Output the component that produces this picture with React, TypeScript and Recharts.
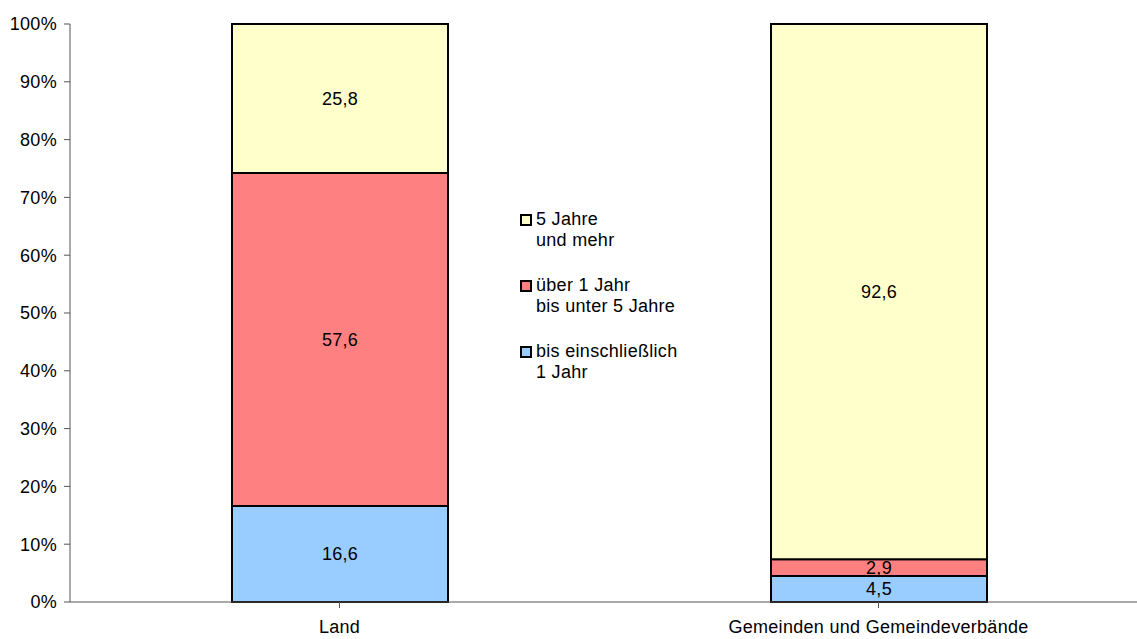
import { Bar, BarChart, LabelList, XAxis, YAxis } from "recharts";

const categories = ["Land", "Gemeinden und Gemeindeverbände"];
const bisEinJahr = [16.6, 4.5];
const ueberEinJahr = [57.6, 2.9];
const fuenfJahre = [25.8, 92.6];
const yTicks = [0, 10, 20, 30, 40, 50, 60, 70, 80, 90, 100];

const SERIES = [
  { key: "kurz", name: "bis einschließlich\n1 Jahr", color: "#99ccff" },
  { key: "mittel", name: "über 1 Jahr\nbis unter 5 Jahre", color: "#ff8080" },
  { key: "lang", name: "5 Jahre\nund mehr", color: "#ffffcc" },
];

const data = categories.map((name, i) => ({
  name,
  kurz: bisEinJahr[i],
  mittel: ueberEinJahr[i],
  lang: fuenfJahre[i],
}));

const FONT = "'Liberation Sans', Arial, sans-serif";
const FS = 18;
const LS = 0.3;

const fmt = (v: unknown) => String(v).replace(".", ",");

function LegendBox() {
  const items = [...SERIES].reverse();
  return (
    <div
      style={{
        position: "absolute",
        left: 520,
        top: 209,
        fontFamily: FONT,
        fontSize: FS,
        letterSpacing: LS,
        color: "#000",
        lineHeight: "21px",
      }}
    >
      {items.map((s) => (
        <div key={s.key} style={{ display: "flex", alignItems: "flex-start", marginBottom: 24 }}>
          <span
            style={{
              display: "inline-block",
              width: 8,
              height: 8,
              marginTop: 5,
              marginRight: 4,
              background: s.color,
              border: "2px solid #000",
            }}
          />
          <span style={{ whiteSpace: "pre-line" }}>{s.name}</span>
        </div>
      ))}
    </div>
  );
}

export default function App() {
  const textStyle = { fill: "#000", fontSize: FS, fontFamily: FONT, letterSpacing: LS };
  return (
    <div style={{ position: "absolute", left: 0, top: 0, width: 1137, height: 639, overflow: "hidden", background: "#fff" }}>
      <BarChart
        width={1150}
        height={639}
        data={data}
        margin={{ top: 24, right: 2, bottom: 7, left: 0 }}
        barSize={216}
      >
        <XAxis
          dataKey="name"
          axisLine={{ stroke: "#555" }}
          tickLine={{ stroke: "#555" }}
          tickSize={6}
          tickMargin={12}
          height={30}
          tick={textStyle}
        />
        <YAxis
          type="number"
          domain={[0, 100]}
          ticks={yTicks}
          width={70}
          tickFormatter={(v) => `${v}%`}
          axisLine={{ stroke: "#555" }}
          tickLine={{ stroke: "#555" }}
          tickSize={6}
          tickMargin={7}
          tick={textStyle}
        />
        {SERIES.map((s) => (
          <Bar
            key={s.key}
            dataKey={s.key}
            name={s.name}
            stackId="a"
            fill={s.color}
            stroke="#000"
            strokeWidth={2}
            isAnimationActive={false}
          >
            <LabelList dataKey={s.key} position="center" formatter={fmt} style={textStyle} />
          </Bar>
        ))}
      </BarChart>
      <LegendBox />
    </div>
  );
}
